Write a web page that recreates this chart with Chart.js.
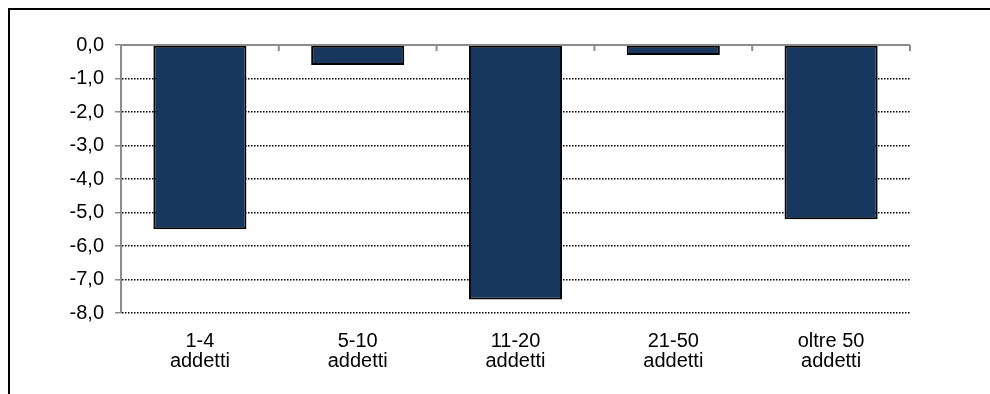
<!DOCTYPE html>
<html>
<head>
<meta charset="utf-8">
<script src="https://cdn.jsdelivr.net/npm/chart.js@4/dist/chart.umd.min.js"></script>
<style>
  html, body { margin: 0; padding: 0; background: #ffffff; }
  #wrap { width: 990px; height: 394px; position: relative; }
</style>
</head>
<body>
<div id="wrap"><canvas id="chart"></canvas></div>
<script>
// Variazione per classe di addetti
const categories = [['1-4', 'addetti'], ['5-10', 'addetti'], ['11-20', 'addetti'], ['21-50', 'addetti'], ['oltre 50', 'addetti']];
const values = [-5.5, -0.6, -7.6, -0.3, -5.2];
const yMin = -8;
const yMax = 0;
const yStep = 1;

const FONT = '"Liberation Sans", Arial, sans-serif';

// Outer frame around the whole chart
const framePlugin = {
  id: 'frame',
  afterDraw(chart) {
    const ctx = chart.ctx;
    ctx.save();
    ctx.strokeStyle = '#000000';
    ctx.lineWidth = 2;
    ctx.beginPath();
    ctx.moveTo(9, chart.height + 5);
    ctx.lineTo(9, 9);
    ctx.lineTo(chart.width + 5, 9);
    ctx.stroke();
    ctx.restore();
  }
};

// Solid grey zero line with short ticks at category boundaries
const zeroLinePlugin = {
  id: 'zeroLine',
  afterDatasetsDraw(chart) {
    const x = chart.scales.x;
    const y = chart.scales.y;
    const ctx = chart.ctx;
    const y0 = Math.round(y.getPixelForValue(0));
    ctx.save();
    ctx.strokeStyle = '#8c8c8c';
    ctx.lineWidth = 2;
    ctx.beginPath();
    ctx.moveTo(x.left, y0);
    ctx.lineTo(x.right, y0);
    const n = x.ticks.length;
    const half = (x.getPixelForValue(1) - x.getPixelForValue(0)) / 2;
    for (let i = 1; i <= n; i++) {
      const bx = x.getPixelForValue(i) - half;
      ctx.moveTo(bx, y0);
      ctx.lineTo(bx, y0 + 6);
    }
    ctx.stroke();
    ctx.restore();
  }
};

new Chart(document.getElementById('chart'), {
  type: 'bar',
  data: {
    labels: categories,
    datasets: [{
      data: values,
      backgroundColor: '#17375E',
      borderColor: '#000000',
      borderWidth: 2,
      borderSkipped: false,
      categoryPercentage: 1,
      barPercentage: 0.59
    }]
  },
  options: {
    responsive: true,
    maintainAspectRatio: false,
    animation: false,
    layout: { padding: { left: 0, right: 80, top: 45, bottom: 0 } },
    plugins: {
      legend: { display: false },
      tooltip: { enabled: false }
    },
    scales: {
      x: {
        offset: true,
        grid: { display: false, drawTicks: false },
        border: { display: false },
        ticks: {
          color: '#000000',
          font: { family: FONT, size: 20, lineHeight: 1.0 },
          padding: 18,
          maxRotation: 0,
          autoSkip: false
        },
        afterFit(scale) { scale.height = 81; }
      },
      y: {
        min: yMin,
        max: yMax,
        grid: {
          color: '#000000',
          lineWidth: 1.5,
          drawTicks: true,
          tickLength: 6,
          tickColor: '#8c8c8c',
          tickWidth: 1.5
        },
        border: { display: true, color: '#8c8c8c', width: 2, dash: [1.5, 1.5] },
        ticks: {
          stepSize: yStep,
          color: '#000000',
          padding: 11,
          font: { family: FONT, size: 20 },
          callback: (v) => v.toFixed(1).replace('.', ',')
        },
        afterFit(scale) { scale.width = 121; }
      }
    }
  },
  plugins: [framePlugin, zeroLinePlugin]
});
</script>
</body>
</html>
